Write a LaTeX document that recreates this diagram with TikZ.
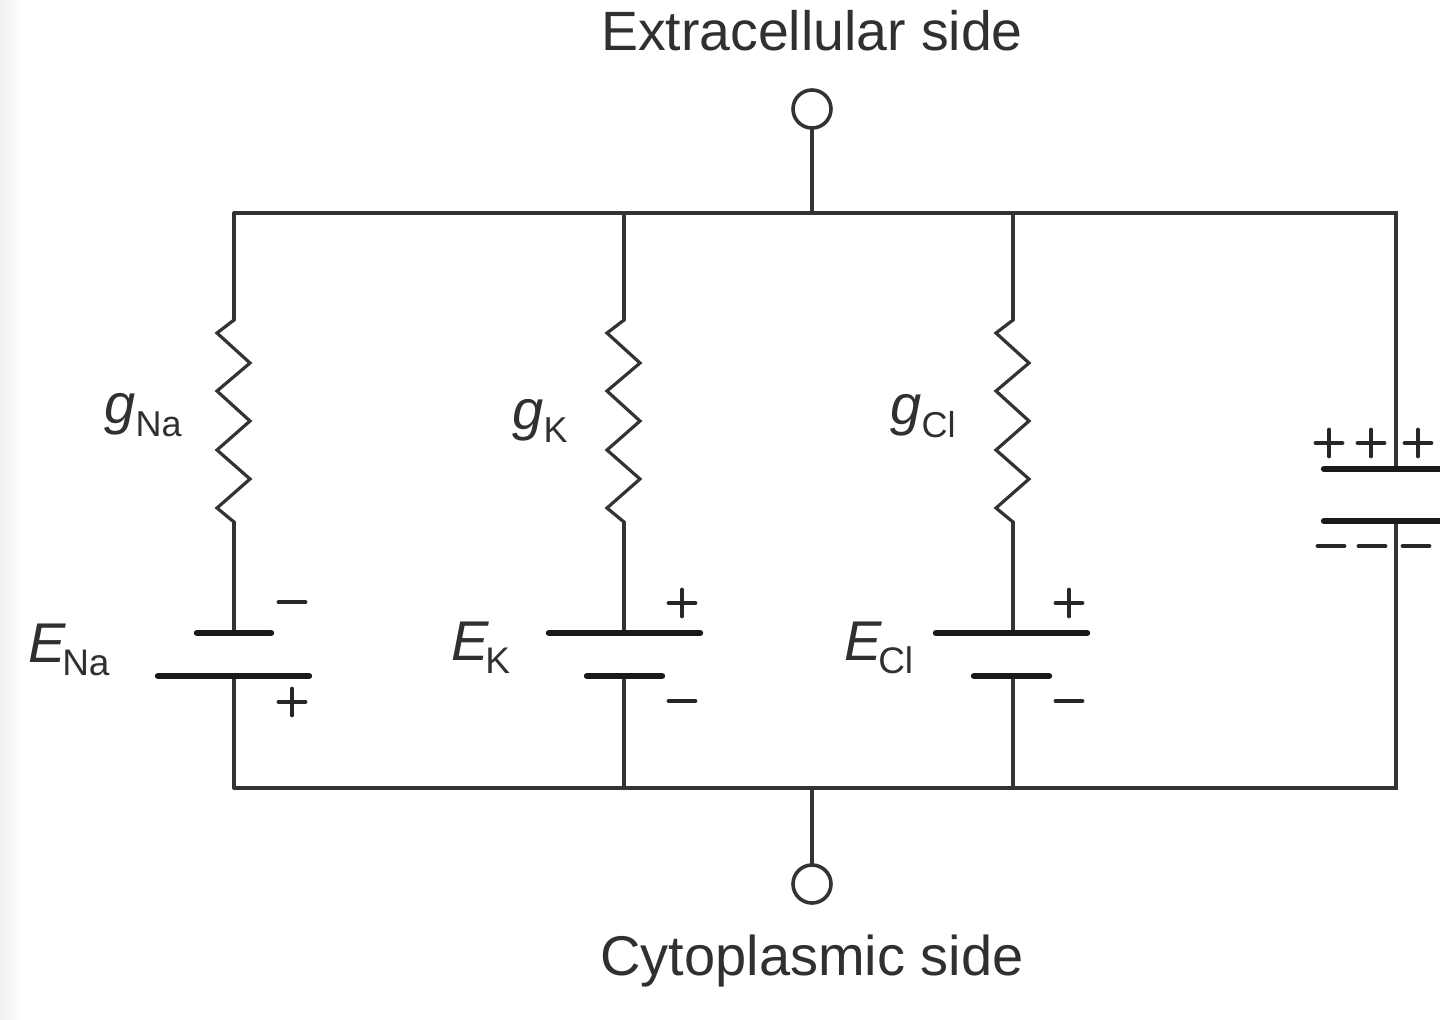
\documentclass[tikz,border=0pt]{standalone}
\usepackage{fontspec}
\setmainfont{Liberation Sans}
\usetikzlibrary{calc}
\definecolor{wirec}{HTML}{333333}
\definecolor{textc}{HTML}{303030}
\newcommand{\lbl}[2]{\textit{#1}\raisebox{-0.24em}{\fontsize{18}{18}\selectfont #2}}
\newcommand{\lble}[2]{\textit{#1}\kern-2pt\raisebox{-0.24em}{\fontsize{18.5}{18.5}\selectfont #2}}
\tikzset{
  x=0.5pt,y=-0.5pt,
  wire/.style={draw=wirec,line width=1.6pt,line cap=round,line join=miter},
  plate/.style={draw=black!90,line width=3.2pt,line cap=round},
  sign/.style={draw=black!85,line width=2.4pt,line cap=round},
  terminal/.style={circle,draw=wirec,line width=1.8pt,fill=white,minimum size=19pt,inner sep=0pt},
  title/.style={font=\fontsize{28}{30}\selectfont,text=textc,inner sep=0pt},
  sym/.style={font=\fontsize{28}{30}\selectfont,text=textc,inner sep=0pt,anchor=base west},
}
\newcommand{\resistor}[1]{%
  \draw[wire] (#1,320) -- ++(-17,13) -- ++(33,30) -- ++(-33,28) -- ++(33,30) -- ++(-33,29) -- ++(33,29) -- ++(-33,29) -- (#1,522);}
\newcommand{\psign}[2]{\draw[sign] (#1-13,#2) -- (#1+13,#2) (#1,#2-13) -- (#1,#2+13);}
\newcommand{\msign}[2]{\draw[sign] (#1-13,#2) -- (#1+13,#2);}
\begin{document}
\begin{tikzpicture}
\useasboundingbox (0,0) rectangle (1440,1019);
\fill[white] (0,0) rectangle (1440,1019);
\shade[left color=black!6,right color=white] (0,0) rectangle (22,1019);

% labels
\node[title,font=\fontsize{27.7}{30}\selectfont] (ext) at (812,31) {Extracellular side};
\node[title] (cyt) at (812,961) {Cytoplasmic side};
\node[sym] (gna) at (104,423) {\lbl{g}{Na}};
\node[sym] (gk)  at (512,429) {\lbl{g}{K}};
\node[sym] (gcl) at (890,424) {\lbl{g}{Cl}};
\node[sym] (ena) at (28,662) {\lble{E}{Na}};
\node[sym] (ek)  at (451,660) {\lble{E}{K}};
\node[sym] (ecl) at (844,660) {\lble{E}{Cl}};

% junctions
\coordinate (tl) at (234,213);
\coordinate (t1) at (624,213);
\coordinate (tm) at (812,213);
\coordinate (t2) at (1013,213);
\coordinate (tr) at (1396,213);
\coordinate (bl) at (234,788);
\coordinate (b1) at (624,788);
\coordinate (bm) at (812,788);
\coordinate (b2) at (1013,788);
\coordinate (br) at (1396,788);
\node[terminal] (top) at (812,109) {};
\node[terminal] (bot) at (812,884) {};

% outer wires
\draw[wire] (top) -- (tm);
\draw[wire] (bot) -- (bm);
\draw[wire] (tl) -- (tr) -- (1396,468);
\draw[wire] (1396,520) -- (br) -- (bl);

% branches
\draw[wire] (tl) -- (234,320);
\draw[wire] (t1) -- (624,320);
\draw[wire] (t2) -- (1013,320);
\resistor{234}\resistor{624}\resistor{1013}
\draw[wire] (234,522) -- (234,633);
\draw[wire] (624,522) -- (624,633);
\draw[wire] (1013,522) -- (1013,633);
\draw[wire] (bl) -- (234,676);
\draw[wire] (b1) -- (624,676);
\draw[wire] (b2) -- (1013,676);

% batteries
\draw[plate] (197,633) -- (271,633);
\draw[plate] (158,676) -- (309,676);
\draw[plate] (549,633) -- (700,633);
\draw[plate] (587,676) -- (662,676);
\draw[plate] (936,633) -- (1087,633);
\draw[plate] (974,676) -- (1049,676);
\msign{292}{602}\psign{292}{702}
\psign{682}{603}\msign{682}{701}
\psign{1069}{603}\msign{1069}{701}

% capacitor
\draw[plate] (1324,469) -- (1450,469);
\draw[plate] (1324,521) -- (1450,521);
\psign{1329}{443}\psign{1371}{443}\psign{1418}{443}
\msign{1331}{546}\msign{1372}{546}\msign{1416}{546}
\end{tikzpicture}
\end{document}
